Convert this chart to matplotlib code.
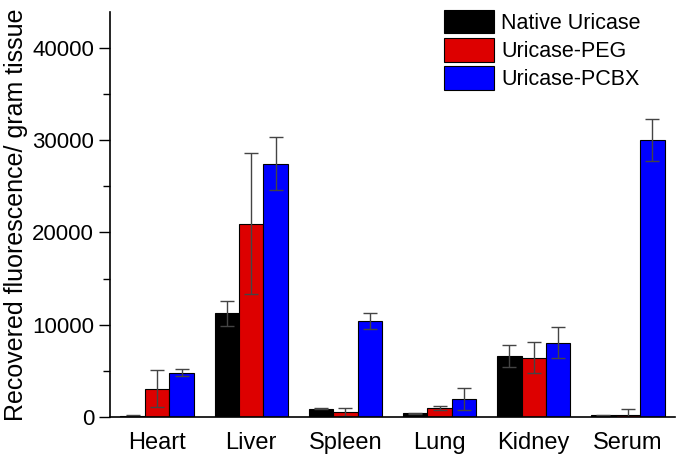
import numpy as np
import matplotlib
matplotlib.use("Agg")
import matplotlib.pyplot as plt
from matplotlib.ticker import MultipleLocator

plt.rcParams['font.family'] = ['Liberation Sans', 'DejaVu Sans']

# data
tissues = ['Heart', 'Liver', 'Spleen', 'Lung', 'Kidney', 'Serum']
series = ['Native Uricase', 'Uricase-PEG', 'Uricase-PCBX']
native = [150, 11240, 900, 400, 6610, 180]
native_err = [50, 1380, 60, 40, 1160, 40]
peg = [3070, 20950, 540, 940, 6430, 250]
peg_err = [2000, 7670, 400, 220, 1670, 650]
pcbx = [4800, 27460, 10440, 1950, 8060, 30030]
pcbx_err = [360, 2840, 850, 1160, 1660, 2250]
colors = ['#000000', '#dd0000', '#0000ff']

fig = plt.figure(figsize=(6.77, 4.57), dpi=100)
ax = fig.add_axes([110/677, 40/457, 565/677, 405/457])

x = np.arange(len(tissues))
w = 0.26
vals = [native, peg, pcbx]
errs = [native_err, peg_err, pcbx_err]
for i in range(3):
    ax.bar(x + (i - 1) * w, vals[i], w, color=colors[i], edgecolor='black',
           linewidth=0.8, label=series[i])
    ax.errorbar(x + (i - 1) * w, vals[i], yerr=errs[i], fmt='none',
                ecolor='#444444', elinewidth=1, capsize=5, capthick=1)

ax.set_xlim(-0.5, 5.5)
ax.set_ylim(0, 43900)
ax.set_xticks(x)
ax.set_xticklabels(tissues, fontsize=17)
ax.tick_params(axis='x', length=0, pad=11)
ax.yaxis.set_major_locator(MultipleLocator(10000))
ax.yaxis.set_minor_locator(MultipleLocator(5000))
ax.tick_params(axis='y', which='major', length=8, width=1, labelsize=16, direction='out')
ax.tick_params(axis='y', which='minor', length=5, width=1, direction='out')
ax.set_ylabel('Recovered fluorescence/ gram tissue', fontsize=18, labelpad=3)
for s in ['top', 'right']:
    ax.spines[s].set_visible(False)
for s in ['left', 'bottom']:
    ax.spines[s].set_linewidth(1.2)

ax.legend(loc='upper left', frameon=False, fontsize=15.5, handlelength=2.3,
          handleheight=1.3, handletextpad=0.35, labelspacing=0.2,
          borderpad=0, borderaxespad=0,
          bbox_to_anchor=(444/677, 1 - 10/457), bbox_transform=fig.transFigure)

fig.savefig('out.png', dpi=100)
